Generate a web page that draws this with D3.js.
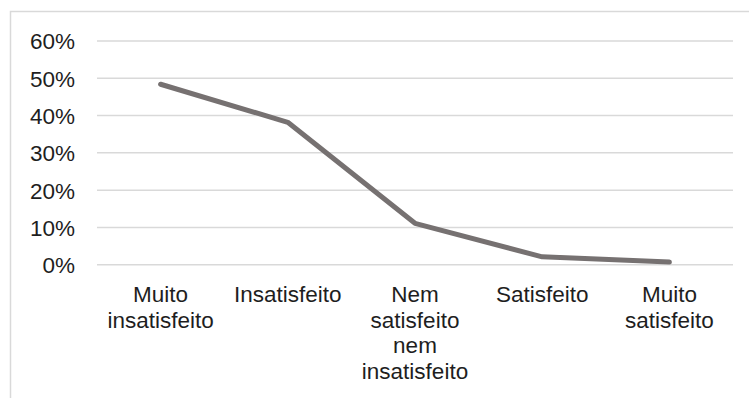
<!DOCTYPE html>
<html>
<head>
<meta charset="utf-8">
<script src="https://cdn.jsdelivr.net/npm/d3@7"></script>
<style>
  html, body { margin: 0; padding: 0; background: #fff; }
  svg { display: block; }
  text { font-family: "Liberation Sans", Arial, sans-serif; }
</style>
</head>
<body>
<svg id="chart" width="749" height="398"></svg>
<script>
// Satisfaction survey: share of answers per category
const categories = [
  "Muito insatisfeito",
  "Insatisfeito",
  "Nem satisfeito nem insatisfeito",
  "Satisfeito",
  "Muito satisfeito"
];
const shares = [0.484, 0.382, 0.111, 0.021, 0.007];
const yTicks = [0, 0.1, 0.2, 0.3, 0.4, 0.5, 0.6];

const W = 749, H = 398;
const plot = { left: 97, right: 733, top: 41, bottom: 264.7 };
const fontSize = 22.5;

const svg = d3.select("#chart");

// outer chart frame (extends past the right and bottom edges)
svg.append("rect")
  .attr("x", 10.5).attr("y", 11.5)
  .attr("width", 900).attr("height", 600)
  .attr("fill", "#fff")
  .attr("stroke", "#d9d9d9")
  .attr("stroke-width", 1.5);

const x = d3.scaleBand()
  .domain(categories)
  .range([plot.left, plot.right])
  .paddingInner(0).paddingOuter(0);

const y = d3.scaleLinear()
  .domain([0, 0.6])
  .range([plot.bottom, plot.top]);

// horizontal gridlines
svg.append("g")
  .selectAll("line")
  .data(yTicks)
  .join("line")
  .attr("x1", plot.left).attr("x2", plot.right)
  .attr("y1", d => y(d)).attr("y2", d => y(d))
  .attr("stroke", "#d9d9d9")
  .attr("stroke-width", 1.5);

// y axis labels
const yAxis = d3.axisLeft(y)
  .tickValues(yTicks)
  .tickFormat(d3.format(".0%"))
  .tickSize(0)
  .tickPadding(0);
const gy = svg.append("g")
  .attr("transform", "translate(75,0)")
  .call(yAxis);
gy.select(".domain").remove();
gy.selectAll("text")
  .attr("font-size", fontSize)
  .attr("font-family", "Liberation Sans, Arial, sans-serif")
  .attr("fill", "#1e1e1e")
  .attr("dy", "0.35em");

// x axis labels, wrapped to the category width
const xAxis = d3.axisBottom(x).tickSize(0).tickPadding(0);
const gx = svg.append("g")
  .attr("transform", "translate(0,0)")
  .call(xAxis);
gx.select(".domain").remove();
gx.selectAll("text")
  .attr("font-size", fontSize)
  .attr("font-family", "Liberation Sans, Arial, sans-serif")
  .attr("fill", "#1e1e1e")
  .attr("y", 0).attr("dy", 0)
  .each(function (d) {
    const t = d3.select(this);
    const words = d.split(" ");
    const maxW = x.bandwidth() - 6;
    t.text(null);
    const lines = [];
    let cur = [];
    const probe = t.append("tspan");
    words.forEach(w => {
      const test = cur.concat([w]).join(" ");
      probe.text(test);
      if (probe.node().getComputedTextLength() > maxW && cur.length) {
        lines.push(cur.join(" "));
        cur = [w];
      } else {
        cur.push(w);
      }
    });
    if (cur.length) lines.push(cur.join(" "));
    probe.remove();
    lines.forEach((ln, i) => {
      t.append("tspan")
        .attr("x", 0)
        .attr("y", 301.7 + i * 25.8)
        .text(ln);
    });
  });

// series line
const line = d3.line()
  .x((d, i) => x(categories[i]) + x.bandwidth() / 2)
  .y(d => y(d));

svg.append("path")
  .datum(shares)
  .attr("d", line)
  .attr("fill", "none")
  .attr("stroke", "#767171")
  .attr("stroke-width", 5)
  .attr("stroke-linecap", "round")
  .attr("stroke-linejoin", "round");
</script>
</body>
</html>
